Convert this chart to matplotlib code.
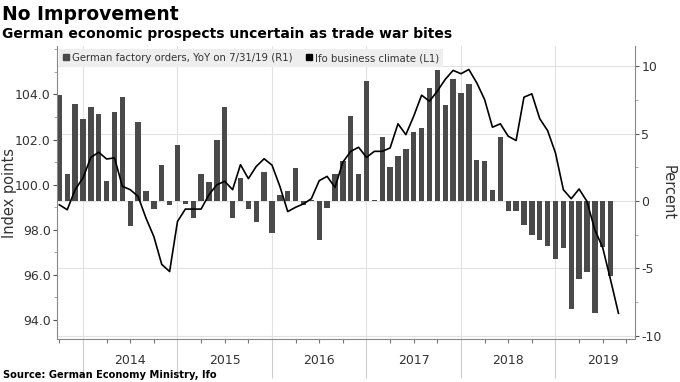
import numpy as np
import matplotlib
matplotlib.use('Agg')
import matplotlib.pyplot as plt
from matplotlib.lines import Line2D
from matplotlib.ticker import MultipleLocator, FixedLocator, NullFormatter, FuncFormatter

# month index: 0 = Jan 2014
ORDERS_START = -3   # Oct 2013
IFO_START = -3

factory_orders_yoy = [
    7.85, 2.0, 7.2, 6.1, 7.0, 6.5, 1.5, 6.6, 7.7, -1.85,
    5.9, 0.75, -0.6, 2.7, -0.3, 4.15, -0.2, -1.25, 2.0, 1.4,
    4.5, 7.0, -1.25, 1.7, -0.6, -1.55, 2.15, -2.4, 0.45, 0.75,
    2.45, -0.3, 0.1, -2.9, -0.55, 2.0, 2.95, 6.35, 2.0, 8.95,
    0.05, 4.75, 2.5, 3.35, 3.85, 5.15, 5.45, 8.4, 9.75, 7.15,
    9.05, 8.0, 8.7, 3.05, 2.95, 0.85, 4.75, -0.75, -0.75, -1.75,
    -2.55, -2.9, -3.35, -4.3, -3.5, -8.0, -5.8, -5.25, -8.3, -3.45, -5.55,
]

ifo_climate = [
    99.11, 98.89, 99.78, 100.3, 101.21, 101.44, 101.14, 101.19, 99.93, 99.78,
    99.48, 98.52, 97.7, 96.47, 96.15, 98.37, 98.92, 98.92, 98.92, 99.56,
    100.0, 100.15, 99.78, 100.89, 100.27, 100.81, 101.15, 100.87, 99.93, 98.81,
    99.0, 99.15, 99.38, 100.18, 100.37, 99.88, 101.0, 101.48, 101.66, 101.21,
    101.48, 101.48, 101.63, 102.7, 102.22, 103.04, 103.97, 103.7, 104.15, 104.67,
    105.07, 104.92, 105.11, 104.52, 103.78, 102.55, 102.7, 102.15, 101.96, 103.88,
    104.03, 102.93, 102.4, 101.41, 99.78, 99.38, 99.81, 99.26, 98.0, 97.21,
    95.78, 94.3,
]

years = ['2014', '2015', '2016', '2017', '2018', '2019']
left_ticks = [94, 96, 98, 100, 102, 104]

BAR_COLOR = '#4a4a4a'
GRID_COLOR = '#e2e2e2'
TEXT_COLOR = '#333333'

x_orders = np.arange(len(factory_orders_yoy)) + ORDERS_START
x_ifo = np.arange(len(ifo_climate)) + IFO_START

fig = plt.figure(figsize=(6.8, 3.82), dpi=100)
ax = fig.add_axes([57 / 680, 43 / 382, 578 / 680, 293 / 382])
ax2 = ax.twinx()

# bars on right axis (drawn underneath)
ax2.bar(x_orders, factory_orders_yoy, width=0.68, color=BAR_COLOR, zorder=2)
ax2.set_ylim(-10.26, 11.52)
ax2.yaxis.set_major_locator(MultipleLocator(5))
ax2.yaxis.set_minor_locator(MultipleLocator(2.5))
ax2.yaxis.set_major_formatter(FuncFormatter(lambda v, p: f'{v:.0f}'))
ax2.grid(axis='y', color=GRID_COLOR, linewidth=0.8, zorder=0)
ax2.set_axisbelow(True)
ax2.set_ylabel('Percent', rotation=270, labelpad=10, fontsize=10.5, color=TEXT_COLOR)

# line on left axis (drawn on top)
ax.set_zorder(ax2.get_zorder() + 1)
ax.patch.set_visible(False)
ax.plot(x_ifo, ifo_climate, color='black', linewidth=1.2, zorder=3)
ax.set_ylim(93.16, 106.15)
ax.yaxis.set_major_locator(FixedLocator(left_ticks))
ax.yaxis.set_minor_locator(MultipleLocator(1))
ax.yaxis.set_major_formatter(FuncFormatter(lambda v, p: f'{v:.1f}'))
ax.set_ylabel('Index points', fontsize=10.5, color=TEXT_COLOR)
ax.yaxis.set_label_coords(-0.069, 0.5)

# x axis: year boundaries, quarterly minor ticks, year labels between
ax.set_xlim(-3.3, 70.1)
year_edges = [12 * i for i in range(len(years))]
ax.xaxis.set_major_locator(FixedLocator(year_edges))
ax.xaxis.set_minor_locator(MultipleLocator(3))
ax.xaxis.set_major_formatter(NullFormatter())
ax.tick_params(axis='x', which='major', length=28, color='#cccccc', width=0.8)
ax.tick_params(axis='x', which='minor', length=3, color='#777777', width=0.8)
for xe in year_edges:
    ax2.axvline(xe, color=GRID_COLOR, linewidth=0.8, zorder=0)
for i, yr in enumerate(years):
    ax.text(12 * i + 6, -0.075, yr, transform=ax.get_xaxis_transform(),
            ha='center', va='center', fontsize=9, color=TEXT_COLOR)

for a in (ax, ax2):
    for s in a.spines.values():
        s.set_visible(False)
ax.spines['left'].set_visible(True)
ax.spines['bottom'].set_visible(True)
ax2.spines['right'].set_visible(True)
for a, side in ((ax, 'left'), (ax2, 'right')):
    a.spines[side].set_color('#888888')
    a.tick_params(axis='y', which='major', length=3, color='#555555', labelsize=9,
                  labelcolor=TEXT_COLOR, pad=1.5)
    a.tick_params(axis='y', which='minor', length=2, color='#999999')
ax.spines['bottom'].set_color('#888888')

handles = [
    Line2D([], [], marker='s', linestyle='none', color=BAR_COLOR, markersize=5),
    Line2D([], [], marker='s', linestyle='none', color='black', markersize=5),
]
labels = ['German factory orders, YoY on 7/31/19 (R1)', 'Ifo business climate (L1)']
leg = ax.legend(handles, labels, loc='upper left', bbox_to_anchor=(0.0, 0.995), ncol=2,
                fontsize=7.3, frameon=True, fancybox=False, borderaxespad=0.15,
                handlelength=0.7, handletextpad=0.25, columnspacing=1.2,
                borderpad=0.4)
leg.get_frame().set_facecolor('#eeeeee')
leg.get_frame().set_edgecolor('none')
leg.get_frame().set_alpha(1)
for t in leg.get_texts():
    t.set_color(TEXT_COLOR)

fig.text(0.003, 0.962, 'No Improvement', fontsize=13.5, fontweight='bold', va='center', ha='left')
fig.text(0.003, 0.912, 'German economic prospects uncertain as trade war bites',
         fontsize=10.0, fontweight='bold', va='center', ha='left')
fig.text(0.004, 0.018, 'Source: German Economy Ministry, Ifo', fontsize=7.1,
         fontweight='bold', va='center', ha='left')

fig.savefig('out.png', dpi=100)
